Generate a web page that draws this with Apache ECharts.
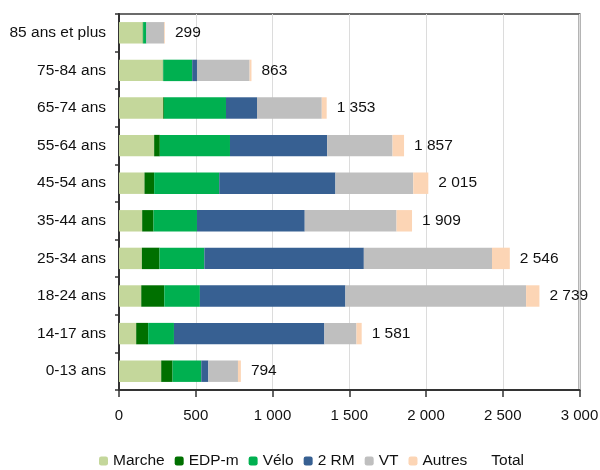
<!DOCTYPE html>
<html>
<head>
<meta charset="utf-8">
<script src="https://cdn.jsdelivr.net/npm/echarts@6/dist/echarts.min.js"></script>
<style>
html,body{margin:0;padding:0;background:#fff;}
#chart{width:600px;height:470px;}
</style>
</head>
<body>
<div id="chart"></div>
<script>
const categories = ['0-13 ans','14-17 ans','18-24 ans','25-34 ans','35-44 ans','45-54 ans','55-64 ans','65-74 ans','75-84 ans','85 ans et plus'];
const marche = [275,112,145,149,151,166,229,288,286,155];
const edpm   = [74,78,150,115,74,63,37,5,2,2];
const velo   = [187,168,232,292,283,424,457,404,189,20];
const rm2    = [46,980,948,1039,702,757,633,202,31,2];
const vt     = [193,209,1177,835,598,507,426,422,343,115];
const autres = [19,34,87,116,101,98,75,32,12,5];
const total  = [794,1581,2739,2546,1909,2015,1857,1353,863,299];
const xTicks = [0,500,1000,1500,2000,2500,3000];

const FONT = '"Liberation Sans", Arial, sans-serif';
function fmt(v){ return String(v).replace(/\B(?=(\d{3})+(?!\d))/g, ' '); }

const chart = echarts.init(document.getElementById('chart'), null, {renderer:'canvas'});
const BW = '57%';
function stackSeries(name, data, color){
  return {name, type:'bar', stack:'s', data, barWidth:BW,
    itemStyle:{color}, emphasis:{disabled:true}};
}
chart.setOption({
  animation:false,
  textStyle:{fontFamily:FONT},
  grid:{left:119, right:20.5, top:14, bottom:80, show:true, borderColor:'#6b6b6b', borderWidth:2,
    containLabel:false, outerBoundsMode:'none'},
  legend:{
    left:94, top:448, itemWidth:9, itemHeight:9, itemGap:10,
    textStyle:{fontFamily:FONT, fontSize:15.5, color:'#111'},
    data:['Marche','EDP-m','Vélo','2 RM','VT','Autres','Total']
  },
  xAxis:{
    type:'value', min:xTicks[0], max:xTicks[xTicks.length-1], interval:500,
    axisLine:{show:true, lineStyle:{color:'#333', width:2}},
    axisTick:{show:true, length:7, lineStyle:{color:'#333', width:1.5}},
    splitLine:{show:true, lineStyle:{color:'#dcdcdc', width:1}},
    axisLabel:{fontFamily:FONT, fontSize:15, color:'#111', margin:18, formatter:v=>fmt(v)}
  },
  yAxis:{
    type:'category', data:categories,
    axisLine:{show:true, lineStyle:{color:'#333', width:2}},
    axisTick:{show:true, length:4, lineStyle:{color:'#333', width:1.5}},
    axisLabel:{fontFamily:FONT, fontSize:15.5, color:'#111', margin:13}
  },
  series:[
    stackSeries('Marche', marche, '#c4d79b'),
    stackSeries('EDP-m', edpm, '#007000'),
    stackSeries('Vélo', velo, '#00b050'),
    stackSeries('2 RM', rm2, '#376092'),
    stackSeries('VT', vt, '#bfbfbf'),
    stackSeries('Autres', autres, '#fcd5b5'),
    {name:'Total', type:'bar', data:total, barWidth:BW, barGap:'-100%', z:5,
      itemStyle:{color:'rgba(0,0,0,0)'}, emphasis:{disabled:true},
      label:{show:true, position:'right', distance:10, fontFamily:FONT, fontSize:15.5, color:'#111',
        formatter:p=>fmt(p.value)}}
  ]
});
</script>
</body>
</html>
